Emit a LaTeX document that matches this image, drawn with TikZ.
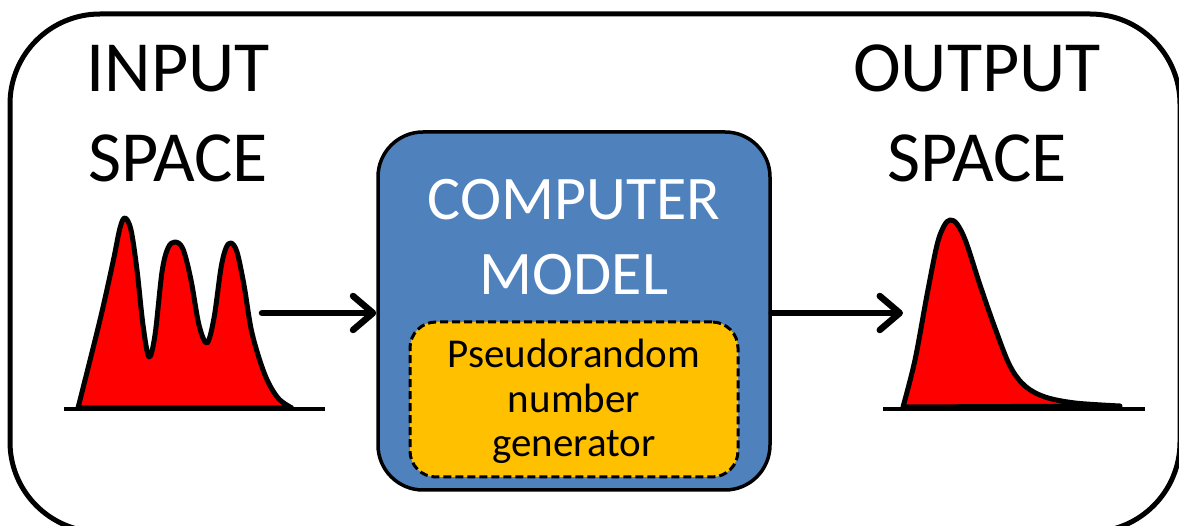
\documentclass[tikz,border=0pt]{standalone}
\usepackage{fontspec}
\setmainfont{Carlito}
\usetikzlibrary{arrows.meta}
\definecolor{modelblue}{RGB}{79,129,189}
\definecolor{prngorange}{RGB}{255,192,0}
\definecolor{curvered}{RGB}{255,0,0}
\begin{document}
\begin{tikzpicture}[x=1pt,y=-1pt,
  spacetext/.style={font=\fontsize{72}{86}\selectfont, anchor=base, inner sep=0pt},
  modeltext/.style={font=\fontsize{62}{75}\selectfont, text=white, anchor=base, inner sep=0pt},
  prngtext/.style={font=\fontsize{41}{45}\selectfont, anchor=base, inner sep=0pt},
  modelbox/.style={draw=black, line width=3.5pt, fill=modelblue, rounded corners=45pt},
  prngbox/.style={draw=black, line width=3pt, dash pattern=on 8pt off 4pt, fill=prngorange, rounded corners=26pt},
  density/.style={draw=black, line width=5pt, fill=curvered, line join=round},
  axis/.style={line width=4.5pt},
  flow/.style={line width=6.5pt, line cap=round, -{Straight Barb[length=20pt,width=34pt,line cap=round,line join=round]}}
]
\useasboundingbox (0,0) rectangle (1179,526);
\begin{scope}
\clip (0,0) rectangle (1179,526);
\draw[line width=5pt, rounded corners=90pt] (10,14) rectangle (1180,532);
\end{scope}

% texts
\node[spacetext] (in1) at (178,92) {INPUT};
\node[spacetext] (in2) at (178,182) {SPACE};
\node[spacetext] (out1) at (977,92) {OUTPUT};
\node[spacetext] (out2) at (977,182) {SPACE};

% model
\node[modelbox, minimum width=392pt, minimum height=358pt] (model) at (574,311) {};
\node[modeltext] (comp) at (574,220) {COMPUTER};
\node[modeltext] (mod) at (574,295) {MODEL};
\node[prngbox, minimum width=328pt, minimum height=155pt] (prng) at (574,399.5) {};
\node[prngtext] (p1) at (574,368) {Pseudorandom};
\node[prngtext] (p2) at (574,413) {number};
\node[prngtext] (p3) at (574,457) {generator};

% input density
\draw[density] plot[smooth, tension=0.55] coordinates {(78,408) (100,320) (113,262) (120,228) (125,218) (131,230) (137,270) (143,325) (149,357) (155,335) (162,272) (168,248) (175,242) (183,249) (191,280) (199,325) (207,343) (214,318) (221,268) (226,248) (231,243) (237,252) (244,285) (252,333) (265,375) (278,398) (292,408)} -- cycle;
\draw[axis] (64,409) -- (325,409);

% output density
\draw[density] plot[smooth, tension=0.55] coordinates {(903,407) (915,360) (927,295) (937,245) (944,226) (950,220) (957,224) (966,242) (980,285) (995,328) (1010,366) (1025,386) (1045,397) (1075,403) (1120,406)} -- cycle;
\draw[axis] (883,409) -- (1145,409);

% arrows
\coordinate (inTail) at (262,313);
\coordinate (outHead) at (903,313);
\draw[flow] (inTail) -- (inTail -| model.west);
\draw[flow] (model.east |- outHead) -- (outHead);
\end{tikzpicture}
\end{document}
